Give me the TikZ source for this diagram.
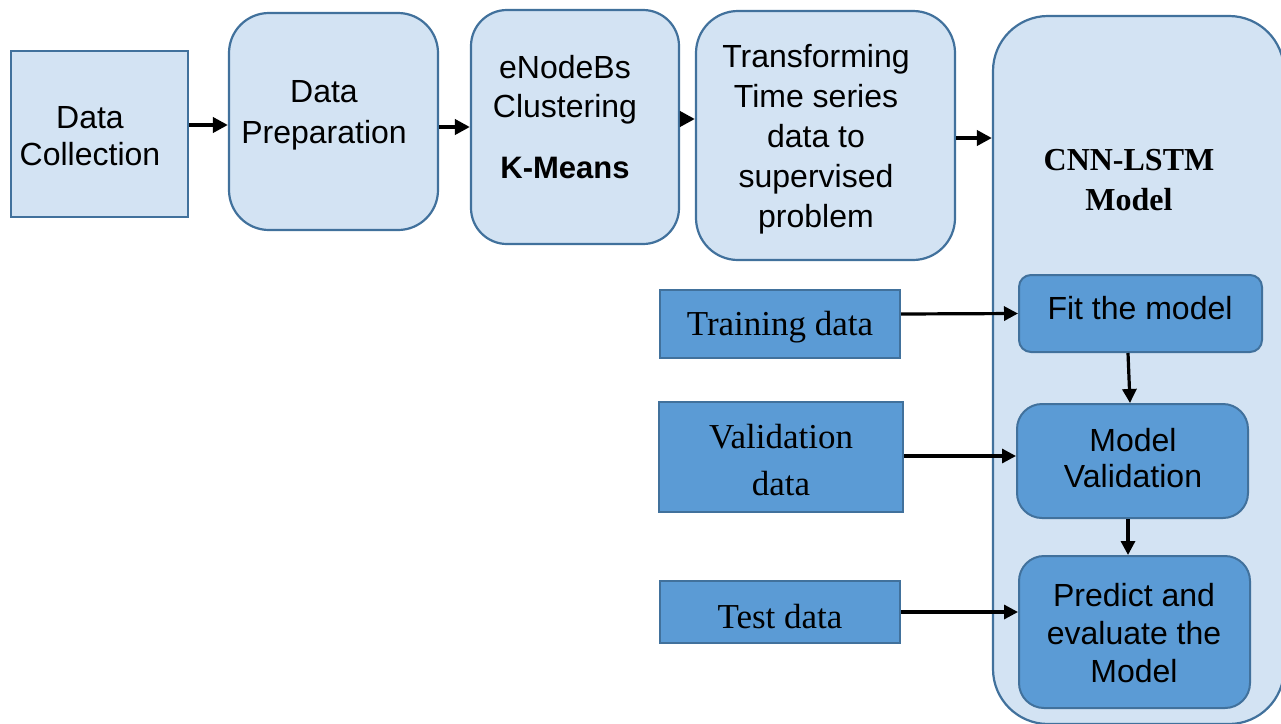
\documentclass[tikz,border=0pt]{standalone}
\usepackage{fontspec}
\setmainfont{Liberation Serif}
\setsansfont{Liberation Sans}
\usetikzlibrary{arrows.meta}
\definecolor{boxlight}{RGB}{211,227,243}
\definecolor{boxedge}{RGB}{65,113,156}
\definecolor{boxdark}{RGB}{91,155,213}
\tikzset{
  stage/.style={draw=boxedge, fill=boxlight, line width=2.2pt, inner sep=0pt},
  sub/.style={draw=boxedge, fill=boxdark, line width=2pt, inner sep=0pt},
  sans/.style={font=\sffamily\fontsize{32}{38}\selectfont, align=center, inner sep=0pt},
  serif/.style={font=\rmfamily\fontsize{35}{47}\selectfont, align=center, inner sep=0pt},
  flow/.style={-{Triangle[length=15pt,width=15pt]}, line width=4.5pt},
  feed/.style={-{Triangle[length=14pt,width=14pt]}, line width=3.2pt},
}
\begin{document}
\begin{tikzpicture}[x=1pt, y=-1pt]
\path[use as bounding box, fill=white] (0,0) rectangle (1281,723);

% pipeline stages
\node[stage, minimum width=177pt, minimum height=166pt] (dc) at (99.5,134) {};
\node[stage, rounded corners=40pt, minimum width=209pt, minimum height=217pt] (dp) at (333.5,121.5) {};
\node[stage, rounded corners=36pt, minimum width=208pt, minimum height=234pt] (en) at (575,127) {};
\node[stage, rounded corners=42pt, minimum width=259pt, minimum height=249pt] (tr) at (825.5,135.5) {};
\node[stage, rounded corners=55pt, minimum width=291pt, minimum height=708pt] (cnn) at (1138.5,370) {};

\node[sans, font=\sffamily\fontsize{32}{37}\selectfont] (dct) at (90,136) {Data\\Collection};
\node[sans, font=\sffamily\fontsize{32}{41}\selectfont] (dpt) at (324,115) {Data\\Preparation};
\node[sans, font=\sffamily\fontsize{32}{39}\selectfont] (ent) at (565,90) {eNodeBs\\Clustering};
\node[sans, font=\sffamily\bfseries\fontsize{31}{38}\selectfont] (kmt) at (565,168) {K-Means};
\node[sans, font=\sffamily\fontsize{32}{40}\selectfont] (trt) at (816,139) {Transforming\\Time series\\data to\\supervised\\problem};
\node[serif, font=\rmfamily\bfseries\fontsize{32}{40}\selectfont] (cnnt) at (1129,180) {CNN-LSTM\\Model};

% model steps
\node[sub, rounded corners=12pt, minimum width=243pt, minimum height=77pt] (fit) at (1140.5,313.5) {};
\node[sub, rounded corners=25pt, minimum width=231pt, minimum height=114pt] (mv) at (1132.5,461) {};
\node[sub, rounded corners=25pt, minimum width=231pt, minimum height=152pt] (pr) at (1134.5,632) {};
\node[sans] (fitt) at (1140,308) {Fit the model};
\node[sans, font=\sffamily\fontsize{32}{36}\selectfont] (mvt) at (1133,458) {Model\\Validation};
\node[sans] (prt) at (1134,633) {Predict and\\evaluate the\\Model};

% data splits
\node[sub, minimum width=240pt, minimum height=68pt] (trn) at (780,324) {};
\node[sub, minimum width=244pt, minimum height=110pt] (val) at (781,457) {};
\node[sub, minimum width=240pt, minimum height=62pt] (tst) at (780,612) {};
\node[serif] (trnt) at (780,327) {Training data};
\node[serif] (valt) at (781,460) {Validation\\data};
\node[serif] (tstt) at (780,617) {Test data};

% connectors
\draw[flow] ([yshift=9pt]dc.east) -- ([yshift=9pt]dc.east -| dp.west);
\draw[flow] ([yshift=-5.5pt]dp.east) -- ([yshift=-5.5pt]dp.east -| en.west);
\draw[flow] ([yshift=8pt]en.east) -- ([yshift=8pt]en.east -| tr.west);
\draw[flow] ([yshift=-2.5pt]tr.east) -- ([yshift=-2.5pt]tr.east -| cnn.west);

\draw[feed] ([yshift=10pt]trn.east) -- (fit.west);
\draw[feed] ([yshift=1pt]val.east) -- ([yshift=1pt]val.east -| mv.west);
\draw[feed] (tst.east) -- (tst.east -| pr.west);
\draw[feed] ([xshift=-12.5pt]fit.south) -- ([xshift=-2.5pt]mv.north);
\draw[feed] ([xshift=-4.5pt]mv.south) -- ([xshift=-6.5pt]pr.north);
\end{tikzpicture}
\end{document}
